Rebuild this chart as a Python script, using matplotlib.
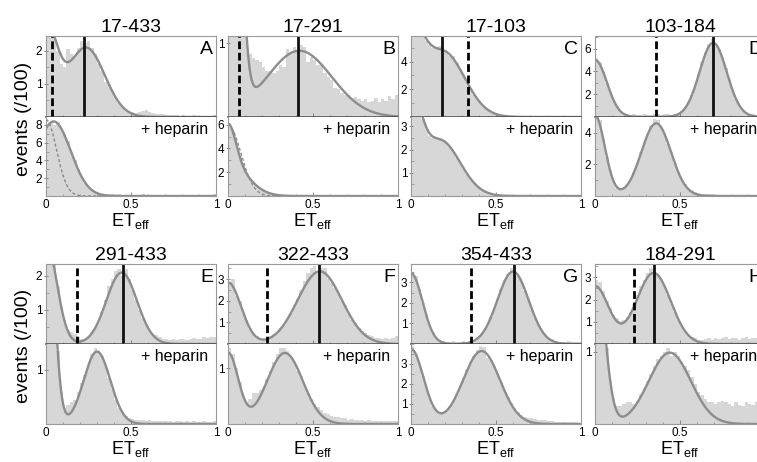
import numpy as np
import matplotlib
matplotlib.use('Agg')
import matplotlib.pyplot as plt
from matplotlib.ticker import AutoMinorLocator

plt.rcParams['font.family'] = ['Liberation Sans', 'DejaVu Sans']
plt.rcParams['mathtext.default'] = 'regular'

# ---------------- data ----------------
titles = ['17-433', '17-291', '17-103', '103-184', '291-433', '322-433', '354-433', '184-291']
letters = ['A', 'B', 'C', 'D', 'E', 'F', 'G', 'H']
bin_edges = np.linspace(0, 1, 51)

top_A = [3.0,3.0,2.6,2.0,1.6,1.5,2.05,1.9,1.85,2.1, 2.3,2.25,2.3,2.1,1.9,1.6,1.4,1.05,1.0,0.8,
         0.6,0.42,0.3,0.22,0.15,0.14,0.12,0.15,0.18,0.2, 0.16,0.12,0.1,0.08,0.1,0.07,0.06,0.05,0.06,0.04,
         0.05,0.04,0.03,0.05,0.04,0.03,0.03,0.04,0.03,0.05]
bot_A = [7.8,8.2,8.0,8.3,7.6,7.0,6.2,5.0,4.0,3.0, 2.2,1.5,1.0,0.65,0.42,0.3,0.2,0.15,0.2,0.18,
         0.15,0.2,0.15,0.12,0.15,0.1,0.12,0.15,0.2,0.12, 0.1,0.12,0.1,0.08,0.1,0.12,0.08,0.1,0.07,0.08,
         0.1,0.06,0.08,0.07,0.1,0.08,0.12,0.15,0.1,0.2]
top_B = [5,5,5,4,2.5,1.3,0.85,0.8,0.78,0.75, .68,.62,.62,.6,.62,.7,.68,.92,.85,.95,
         .9,.98,.95,.75,.82,.78,.7,.72,.6,.55, .5,.4,.38,.33,.3,.3,.26,.27,.25,.22,
         .25,.2,.22,.26,.2,.24,.22,.28,.25,.3]
bot_B = [5.8,5.5,4.5,3.4,2.5,1.9,1.45,1.1,.85,.6, .45,.32,.22,.15,.1,.08,.06,.05,.04,.05,
         .04,.03,.04,.03,.02,.03,.04,.02,.03,.02, .03,.02,.02,.03,.02,.02,.03,.02,.02,.03,
         .02,.02,.03,.02,.02,.03,.02,.02,.03,.04]
top_C = [8,8,7,6.5,5.5,5.2,5.0,5.0,5.1,4.8, 4.75,4.4,4.4,3.9,3.5,3.0,2.5,2.0,1.6,1.3,
         1.0,0.7,0.5,0.38,0.25,0.17,0.12,0.08,0.06,0.05, .05,.04,.05,.04,.03,.05,.04,.03,.04,.03,
         .04,.03,.03,.04,.03,.03,.04,.03,.03,.04]
bot_C = [5,5,4.5,3.3,2.9,2.6,2.5,2.55,2.5,2.4, 2.3,2.1,1.9,1.65,1.4,1.15,.95,.75,.55,.4,
         .3,.2,.14,.1,.07,.05,.05,.04,.04,.05, .04,.03,.04,.03,.03,.04,.03,.03,.04,.03,
         .03,.04,.03,.03,.04,.03,.03,.04,.03,.03]
top_D = [5.2,4.8,4.0,3.0,2.2,1.5,0.95,0.55,0.35,0.25, 0.2,0.22,0.15,0.2,0.25,0.18,0.2,0.3,0.22,0.18,
         0.25,0.3,0.2,0.28,0.35,0.5,0.8,1.3,1.95,2.8, 3.75,4.8,5.7,6.4,6.8,6.5,6.0,5.2,4.3,3.3,
         2.4,1.6,1.05,0.65,0.4,0.3,0.25,0.2,0.22,0.2]
bot_D = [5.3,4.8,3.6,2.5,1.6,0.95,0.5,0.45,0.5,0.75, 1.1,1.5,2.1,2.8,3.4,3.9,4.5,4.9,4.8,4.3,
         4.0,3.3,2.8,2.1,1.5,1.1,0.75,0.5,0.35,0.25, .2,.15,.12,.1,.1,.08,.08,.07,.06,.06,
         .05,.06,.05,.05,.04,.05,.04,.04,.05,.04]
top_E = [3,3,2.4,1.7,1.1,0.7,0.42,0.35,0.3,0.22, .15,.15,.2,.35,.5,.65,.95,1.3,1.7,1.9,
         2.15,2.2,2.0,2.2,1.9,1.6,1.3,1.0,.75,.55, .38,.3,.25,.2,.15,.15,.12,.15,.12,.14,
         .15,.12,.15,.18,.14,.16,.2,.18,.22,.2]
bot_E = [3,3,2.5,1.35,.6,.3,.35,.4,.45,.6, .75,.9,1.1,1.3,1.4,1.35,1.25,1.1,.85,.65,
         .45,.3,.2,.15,.12,.1,.08,.07,.08,.06, .07,.06,.05,.06,.05,.05,.06,.04,.05,.05,
         .04,.05,.04,.05,.04,.04,.05,.04,.04,.05]
top_F = [2.8,3.0,2.2,2.0,1.4,1.1,0.7,0.5,0.35,0.25, .2,.25,.35,.45,.55,.75,.9,1.2,1.45,1.8,
         2.1,2.5,2.9,3.3,3.5,3.6,3.3,3.5,3.5,3.0, 2.8,2.6,2.3,2.0,1.8,1.4,1.1,.95,.75,.6,
         .5,.4,.35,.3,.3,.25,.3,.25,.3,.35]
bot_F = [1.35,1.25,1.0,.75,.5,.4,.45,.55,.55,.6, .65,.8,.95,1.1,1.25,1.35,1.35,1.3,1.2,1.1,
         .95,.85,.7,.55,.45,.35,.3,.25,.2,.18, .15,.12,.12,.1,.1,.08,.09,.08,.07,.08,
         .06,.07,.06,.05,.06,.05,.05,.06,.05,.05]
top_G = [3.5,3.3,2.7,2.0,1.45,.95,.55,.3,.2,.15, .12,.1,.15,.12,.1,.15,.12,.14,.18,.3,
         .45,.65,.95,1.3,1.75,2.2,2.7,3.1,3.4,3.7, 3.5,3.3,3.0,2.6,2.2,1.7,1.3,.95,.65,.45,
         .3,.22,.15,.12,.12,.1,.15,.12,.1,.12]
bot_G = [3.9,3.5,3.0,2.4,1.85,1.3,.9,.65,.5,.55, .7,.9,1.15,1.5,1.9,2.3,2.75,3.1,3.4,3.7,
         3.9,3.85,3.3,3.2,2.9,2.5,2.1,1.7,1.35,1.05, .8,.6,.45,.35,.3,.28,.25,.2,.22,.18,
         .15,.15,.12,.1,.12,.1,.08,.1,.08,.06]
top_H = [2.9,2.8,2.4,1.95,1.6,1.3,1.15,1.05,1.1,1.2, 1.45,1.8,2.2,2.6,2.9,3.2,3.4,3.3,3.1,2.9,
         2.6,2.2,1.8,1.45,1.1,.85,.6,.42,.3,.25, .2,.2,.22,.25,.2,.28,.22,.25,.3,.22,
         .25,.28,.2,.25,.3,.22,.25,.28,.22,.26]
bot_H = [2,2,1.6,1.05,.6,.35,.25,.25,.28,.3, .3,.28,.32,.42,.5,.6,.7,.8,.9,.95,
         1.0,1.05,.95,1.0,.95,.85,.8,.75,.65,.55, .45,.4,.35,.3,.3,.28,.3,.32,.3,.28,
         .25,.3,.27,.25,.3,.28,.26,.3,.25,.28]

# fitted Gaussian components: (center, width, amplitude)
fit_top_A = [(0.0, 0.064, 2.6), (0.235, 0.11, 2.1)]
fit_bot_A = [(0.045, 0.10, 8.4)]
fit_top_B = [(0.0, 0.05, 9.7), (0.42, 0.19, 0.9)]
fit_bot_B = [(0.0, 0.045, 3.3), (0.0, 0.11, 2.8)]
fit_top_C = [(0.0, 0.07, 5.1), (0.19, 0.125, 4.7)]
fit_bot_C = [(0.0, 0.058, 3.5), (0.17, 0.118, 2.4)]
fit_top_D = [(0.0, 0.07, 5.0), (0.695, 0.08, 6.5)]
fit_bot_D = [(0.0, 0.058, 5.1), (0.36, 0.087, 4.6)]
fit_top_E = [(0.0, 0.063, 3.0), (0.445, 0.09, 2.1)]
fit_bot_E = [(0.0, 0.0434, 4.7), (0.30, 0.078, 1.34)]
fit_top_F = [(0.0, 0.077, 2.85), (0.54, 0.13, 3.36)]
fit_bot_F = [(0.0, 0.06, 1.27), (0.335, 0.105, 1.27)]
fit_top_G = [(0.0, 0.067, 3.45), (0.60, 0.092, 3.53)]
fit_bot_G = [(0.0, 0.074, 3.75), (0.415, 0.108, 3.65)]
fit_top_H = [(0.0, 0.08, 2.6), (0.345, 0.10, 3.2)]
fit_bot_H = [(0.0, 0.054, 2.3), (0.44, 0.123, 0.99)]
# donor-only reference curves (+ heparin, dashed)
ref_bot_A = [(0.0, 0.062, 8.6)]
ref_bot_B = [(0.0, 0.075, 6.0)]

dashed_x = [0.037, 0.065, 0.335, 0.357, 0.184, 0.231, 0.35, 0.231]
solid_x = [0.225, 0.414, 0.185, 0.692, 0.455, 0.537, 0.608, 0.347]

ylim_top = [2.45, 1.1, 5.85, 7.1, 2.35, 3.7, 3.9, 3.6]
ylim_bot = [8.9, 6.65, 3.4, 5.0, 1.48, 1.43, 4.0, 1.11]
yticks_top = [[1, 2], [1], [2, 4], [2, 4, 6], [1, 2], [1, 2, 3], [1, 2, 3], [1, 2, 3]]
yticks_bot = [[2, 4, 6, 8], [2, 4, 6], [1, 2, 3], [2, 4], [1], [1], [1, 2, 3], [1]]

tops = [top_A, top_B, top_C, top_D, top_E, top_F, top_G, top_H]
bots = [bot_A, bot_B, bot_C, bot_D, bot_E, bot_F, bot_G, bot_H]
fits_top = [fit_top_A, fit_top_B, fit_top_C, fit_top_D, fit_top_E, fit_top_F, fit_top_G, fit_top_H]
fits_bot = [fit_bot_A, fit_bot_B, fit_bot_C, fit_bot_D, fit_bot_E, fit_bot_F, fit_bot_G, fit_bot_H]
refs_bot = [ref_bot_A, ref_bot_B, None, None, None, None, None, None]

# ---------------- layout ----------------
W, H = 757, 462
fig = plt.figure(figsize=(W / 100, H / 100), dpi=100)
cols_px = [46, 228, 411, 595]
col_w = 170
rows_px = [(36, 117, 196), (264, 344, 424)]

HIST = '#d7d7d7'
CURVE = '#8d8d8d'
SPINE = '#9a9a9a'
xg = np.linspace(0, 1, 601)


def model(params):
    y = np.zeros_like(xg)
    for m, s, a in params:
        y += a * np.exp(-(xg - m) ** 2 / (2 * s ** 2))
    return y


def style(ax, yt, ylim, bottom):
    ax.set_xlim(0, 1)
    ax.set_ylim(0, ylim)
    ax.set_yticks(yt)
    ax.yaxis.set_minor_locator(AutoMinorLocator(2))
    ax.set_xticks([0, 0.5, 1])
    ax.xaxis.set_minor_locator(AutoMinorLocator(5))
    ax.tick_params(axis='y', which='major', direction='inout', length=3.5, width=0.6,
                   color='#777777', labelsize=8.5, pad=1.0)
    ax.tick_params(axis='y', which='minor', direction='in', length=1.8, width=0.5, color='#888888')
    ax.tick_params(axis='x', which='major', direction='in', length=3, width=0.6,
                   color='#777777', labelsize=8.5, pad=2.5)
    ax.tick_params(axis='x', which='minor', direction='in', length=1.5, width=0.5, color='#888888')
    for s in ax.spines.values():
        s.set_color(SPINE)
        s.set_linewidth(0.8)
    if bottom:
        ax.spines['top'].set_visible(False)
        ax.set_xticklabels(['0', '0.5', '1'])
    else:
        ax.spines['bottom'].set_color('#4a4a4a')
        ax.spines['bottom'].set_linewidth(1.1)
        ax.spines['bottom'].set_zorder(5)
        ax.set_xticklabels([])


for k in range(8):
    r, c = divmod(k, 4)
    t_px, m_px, b_px = rows_px[r]
    l_px = cols_px[c]
    ax_t = fig.add_axes([l_px / W, 1 - m_px / H, col_w / W, (m_px - t_px) / H])
    ax_b = fig.add_axes([l_px / W, 1 - b_px / H, col_w / W, (b_px - m_px) / H])

    # top: without heparin
    ax_t.bar(bin_edges[:-1], tops[k], width=0.02, align='edge', color=HIST, linewidth=0)
    ax_t.plot(xg, model(fits_top[k]), color=CURVE, lw=1.7, solid_capstyle='round')
    ax_t.axvline(dashed_x[k], color='black', lw=2.0, linestyle=(0, (2.8, 1.3)))
    ax_t.axvline(solid_x[k], color='#111111', lw=2.0)
    style(ax_t, yticks_top[k], ylim_top[k], False)
    ax_t.set_title(titles[k], fontsize=14, pad=3)
    ax_t.text(1 - 3 / col_w, 1 - 5 / (m_px - t_px), letters[k], transform=ax_t.transAxes,
              ha='right', va='top', fontsize=14)

    # bottom: + heparin
    ax_b.bar(bin_edges[:-1], bots[k], width=0.02, align='edge', color=HIST, linewidth=0)
    if refs_bot[k] is not None:
        ax_b.plot(xg, model(refs_bot[k]), color='#8a8a8a', lw=1.0, linestyle=(0, (2.2, 1.6)))
    ax_b.plot(xg, model(fits_bot[k]), color=CURVE, lw=1.7, solid_capstyle='round')
    style(ax_b, yticks_bot[k], ylim_bot[k], True)
    ax_b.text(1 - 8 / col_w, 1 - 5 / (b_px - m_px), '+ heparin', transform=ax_b.transAxes,
              ha='right', va='top', fontsize=11.5)
    ax_b.set_xlabel('ET$_{eff}$', fontsize=13, labelpad=0)

for r in range(2):
    t_px, m_px, b_px = rows_px[r]
    fig.text(24 / W, 1 - (m_px + 2) / H, 'events (/100)', rotation=90, ha='center', va='center',
             fontsize=14)

fig.savefig('out.png', dpi=100)
